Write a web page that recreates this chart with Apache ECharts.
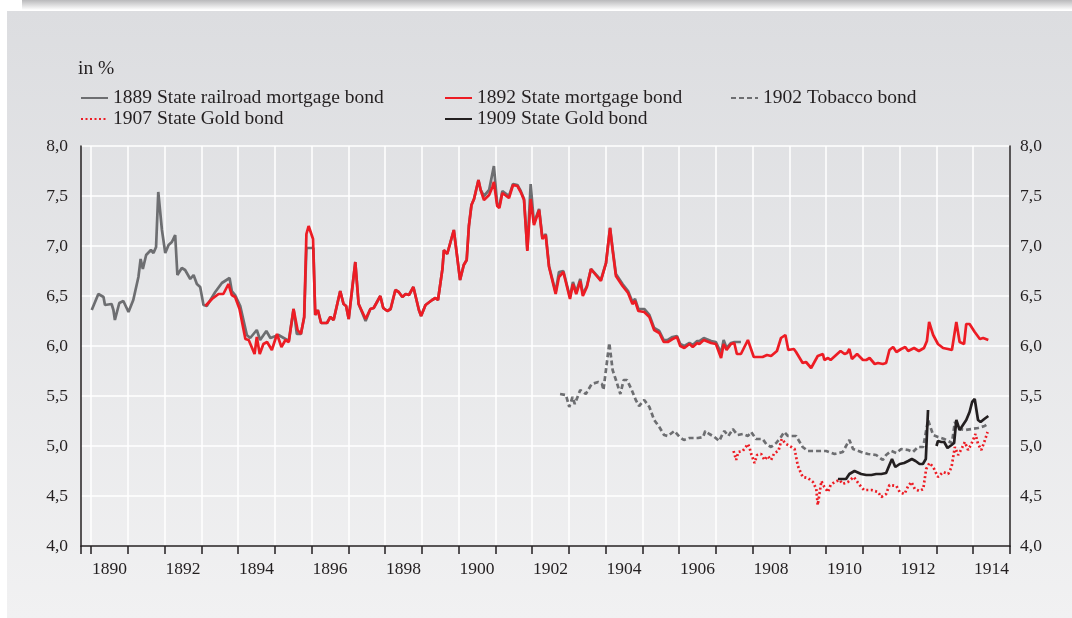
<!DOCTYPE html>
<html>
<head>
<meta charset="utf-8">
<script src="https://cdn.jsdelivr.net/npm/echarts@6/dist/echarts.min.js"></script>
<style>
html,body{margin:0;padding:0;background:#fff;width:1072px;height:618px;overflow:hidden;}
#shadow{position:absolute;left:22px;top:0;width:1050px;height:10px;background:linear-gradient(to bottom,#b9b9bb,#ffffff);}
#panel{position:absolute;left:7px;top:11px;width:1065px;height:607px;background:linear-gradient(to bottom,#dcdde0,#f1f1f2);}
#chart{position:absolute;left:0;top:0;width:1072px;height:618px;}
</style>
</head>
<body>
<div id="shadow"></div>
<div id="panel"></div>
<div id="chart"></div>
<script>
const years = ['1890','1891','1892','1893','1894','1895','1896','1897','1898','1899','1900','1901','1902','1903','1904','1905','1906','1907','1908','1909','1910','1911','1912','1913','1914'];
const yTicks = {min: 4, max: 8, interval: 0.5};
const seriesNames = ['1889 State railroad mortgage bond','1892 State mortgage bond','1902 Tobacco bond','1907 State Gold bond','1909 State Gold bond'];

const bond1889 = [[1890.02,6.36],[1890.20,6.52],[1890.34,6.49],[1890.38,6.41],[1890.56,6.42],[1890.61,6.36],[1890.65,6.26],[1890.70,6.25],[1890.77,6.43],[1890.88,6.45],[1891.02,6.34],[1891.15,6.46],[1891.29,6.69],[1891.35,6.87],[1891.41,6.77],[1891.50,6.91],[1891.63,6.96],[1891.70,6.93],[1891.77,6.99],[1891.83,7.54],[1891.93,7.16],[1892.02,6.93],[1892.11,7.01],[1892.20,7.04],[1892.29,7.11],[1892.35,6.71],[1892.47,6.78],[1892.56,6.76],[1892.70,6.67],[1892.79,6.71],[1892.88,6.62],[1892.97,6.59],[1893.06,6.41],[1893.15,6.40],[1893.38,6.54],[1893.56,6.63],[1893.77,6.68],[1893.83,6.55],[1893.92,6.51],[1894.06,6.40],[1894.24,6.11],[1894.33,6.08],[1894.51,6.16],[1894.60,6.06],[1894.77,6.15],[1894.88,6.08],[1895.10,6.11],[1895.29,6.07],[1895.38,6.05],[1895.51,6.37],[1895.60,6.12],[1895.71,6.12],[1895.80,6.29],[1895.86,6.98],[1896.05,6.98],[1896.10,6.31],[1896.17,6.36],[1896.26,6.23],[1896.42,6.23],[1896.51,6.29],[1896.60,6.26],[1896.78,6.55],[1896.87,6.42],[1896.94,6.40],[1897.01,6.27],[1897.19,6.84],[1897.28,6.42],[1897.47,6.25],[1897.60,6.37],[1897.69,6.38],[1897.87,6.50],[1897.95,6.38],[1898.06,6.35],[1898.15,6.37],[1898.28,6.56],[1898.37,6.54],[1898.47,6.49],[1898.56,6.52],[1898.65,6.51],[1898.77,6.59],[1898.92,6.36],[1898.98,6.30],[1899.10,6.41],[1899.28,6.46],[1899.37,6.48],[1899.44,6.46],[1899.56,6.77],[1899.60,6.96],[1899.69,6.92],[1899.87,7.16],[1900.04,6.66],[1900.14,6.81],[1900.22,6.86],[1900.28,7.20],[1900.35,7.41],[1900.42,7.47],[1900.54,7.66],[1900.60,7.56],[1900.69,7.50],[1900.83,7.56],[1900.96,7.80],[1901.05,7.42],[1901.11,7.40],[1901.19,7.55],[1901.37,7.50],[1901.48,7.62],[1901.60,7.61],[1901.69,7.55],[1901.78,7.47],[1901.87,6.96],[1901.96,7.62],[1902.05,7.23],[1902.19,7.37],[1902.28,7.08],[1902.37,7.12],[1902.46,6.80],[1902.64,6.54],[1902.73,6.74],[1902.85,6.75],[1903.03,6.49],[1903.11,6.64],[1903.20,6.54],[1903.31,6.67],[1903.38,6.52],[1903.49,6.60],[1903.60,6.77],[1903.87,6.66],[1904.01,6.83],[1904.12,7.18],[1904.19,6.97],[1904.28,6.72],[1904.46,6.62],[1904.61,6.55],[1904.73,6.44],[1904.80,6.47],[1904.89,6.37],[1905.05,6.37],[1905.19,6.31],[1905.32,6.18],[1905.46,6.15],[1905.58,6.06],[1905.69,6.06],[1905.82,6.09],[1905.94,6.10],[1906.03,6.02],[1906.14,6.00],[1906.28,6.03],[1906.37,6.01],[1906.49,6.05],[1906.55,6.05],[1906.67,6.08],[1906.87,6.05],[1907.00,6.04],[1907.14,5.93],[1907.21,6.06],[1907.29,5.98],[1907.41,6.03],[1907.50,6.04],[1907.68,6.04]];

const bond1892 = [[1893.11,6.40],[1893.29,6.47],[1893.47,6.52],[1893.60,6.52],[1893.74,6.62],[1893.79,6.63],[1893.83,6.51],[1893.92,6.49],[1894.04,6.37],[1894.20,6.07],[1894.29,6.06],[1894.45,5.92],[1894.51,6.09],[1894.59,5.92],[1894.69,6.02],[1894.79,6.04],[1894.92,5.96],[1895.06,6.12],[1895.18,5.99],[1895.29,6.06],[1895.38,6.04],[1895.51,6.37],[1895.62,6.16],[1895.71,6.12],[1895.80,6.29],[1895.86,7.12],[1895.92,7.20],[1896.04,7.07],[1896.10,6.31],[1896.17,6.36],[1896.26,6.23],[1896.42,6.23],[1896.51,6.29],[1896.60,6.26],[1896.78,6.55],[1896.87,6.42],[1896.94,6.40],[1897.01,6.27],[1897.19,6.84],[1897.28,6.42],[1897.47,6.27],[1897.60,6.37],[1897.69,6.38],[1897.87,6.50],[1897.95,6.38],[1898.06,6.35],[1898.15,6.37],[1898.28,6.56],[1898.37,6.54],[1898.47,6.49],[1898.56,6.52],[1898.65,6.51],[1898.77,6.59],[1898.92,6.36],[1898.98,6.30],[1899.10,6.41],[1899.28,6.46],[1899.37,6.48],[1899.44,6.46],[1899.56,6.77],[1899.60,6.96],[1899.69,6.92],[1899.87,7.16],[1900.04,6.66],[1900.14,6.81],[1900.22,6.86],[1900.28,7.20],[1900.35,7.41],[1900.42,7.47],[1900.54,7.66],[1900.60,7.56],[1900.69,7.46],[1900.83,7.51],[1900.92,7.59],[1900.96,7.64],[1901.05,7.40],[1901.11,7.38],[1901.19,7.53],[1901.37,7.48],[1901.48,7.61],[1901.60,7.60],[1901.69,7.54],[1901.78,7.46],[1901.87,6.95],[1901.96,7.47],[1902.05,7.21],[1902.19,7.36],[1902.28,7.07],[1902.37,7.11],[1902.46,6.79],[1902.64,6.52],[1902.73,6.69],[1902.85,6.74],[1903.03,6.47],[1903.11,6.62],[1903.20,6.52],[1903.31,6.65],[1903.38,6.50],[1903.49,6.59],[1903.60,6.77],[1903.87,6.65],[1904.01,6.83],[1904.12,7.18],[1904.19,6.96],[1904.28,6.70],[1904.46,6.60],[1904.61,6.53],[1904.73,6.42],[1904.80,6.45],[1904.89,6.35],[1905.05,6.34],[1905.19,6.29],[1905.32,6.16],[1905.46,6.13],[1905.58,6.04],[1905.69,6.04],[1905.82,6.07],[1905.94,6.09],[1906.03,6.00],[1906.14,5.98],[1906.28,6.02],[1906.37,5.99],[1906.49,6.03],[1906.55,6.02],[1906.67,6.06],[1906.87,6.03],[1907.00,6.02],[1907.14,5.88],[1907.21,6.02],[1907.29,5.96],[1907.41,6.02],[1907.50,6.03],[1907.57,5.92],[1907.68,5.92],[1907.87,6.06],[1908.03,5.89],[1908.27,5.89],[1908.39,5.91],[1908.50,5.90],[1908.66,5.95],[1908.77,6.08],[1908.89,6.11],[1908.97,5.96],[1909.12,5.97],[1909.18,5.94],[1909.36,5.83],[1909.45,5.84],[1909.59,5.78],[1909.77,5.90],[1909.91,5.92],[1909.95,5.86],[1910.05,5.88],[1910.12,5.86],[1910.27,5.91],[1910.39,5.95],[1910.50,5.92],[1910.57,5.93],[1910.63,5.97],[1910.70,5.87],[1910.84,5.92],[1911.00,5.86],[1911.09,5.86],[1911.18,5.88],[1911.32,5.82],[1911.41,5.83],[1911.54,5.82],[1911.63,5.83],[1911.72,5.96],[1911.82,5.99],[1911.91,5.94],[1912.04,5.97],[1912.15,5.99],[1912.23,5.95],[1912.39,5.98],[1912.52,5.95],[1912.66,5.98],[1912.74,6.05],[1912.80,6.24],[1912.91,6.11],[1913.04,6.02],[1913.18,5.98],[1913.31,5.97],[1913.42,5.96],[1913.54,6.24],[1913.63,6.04],[1913.75,6.02],[1913.81,6.22],[1913.90,6.22],[1914.04,6.14],[1914.18,6.07],[1914.27,6.08],[1914.41,6.06]];

const bond1902 = [[1902.76,5.52],[1902.92,5.51],[1903.01,5.39],[1903.10,5.49],[1903.16,5.42],[1903.31,5.56],[1903.46,5.52],[1903.62,5.62],[1903.80,5.64],[1903.90,5.62],[1903.94,5.56],[1904.10,6.03],[1904.19,5.76],[1904.28,5.66],[1904.40,5.52],[1904.49,5.66],[1904.58,5.66],[1904.71,5.56],[1904.82,5.46],[1904.91,5.40],[1905.05,5.46],[1905.19,5.39],[1905.32,5.26],[1905.46,5.19],[1905.59,5.11],[1905.69,5.10],[1905.87,5.15],[1906.01,5.09],[1906.13,5.06],[1906.28,5.08],[1906.51,5.08],[1906.65,5.09],[1906.71,5.15],[1906.82,5.12],[1906.96,5.09],[1907.09,5.05],[1907.18,5.12],[1907.23,5.15],[1907.34,5.10],[1907.46,5.17],[1907.59,5.11],[1907.73,5.12],[1907.87,5.10],[1907.96,5.14],[1908.09,5.07],[1908.27,5.07],[1908.37,5.02],[1908.50,4.99],[1908.64,5.03],[1908.77,5.09],[1908.86,5.14],[1908.96,5.10],[1909.18,5.10],[1909.36,4.99],[1909.50,4.95],[1909.77,4.95],[1910.00,4.95],[1910.23,4.92],[1910.45,4.94],[1910.63,5.06],[1910.73,4.97],[1910.95,4.94],[1911.14,4.92],[1911.36,4.91],[1911.54,4.86],[1911.63,4.91],[1911.77,4.95],[1911.91,4.93],[1912.04,4.97],[1912.23,4.96],[1912.36,4.94],[1912.50,4.99],[1912.64,4.99],[1912.77,5.26],[1912.91,5.11],[1913.04,5.09],[1913.21,5.07],[1913.32,5.05],[1913.42,5.03],[1913.50,5.24],[1913.63,5.17],[1913.77,5.16],[1913.95,5.17],[1914.13,5.18],[1914.31,5.20],[1914.42,5.23]];

const bond1907 = [[1907.48,4.95],[1907.55,4.86],[1907.61,4.94],[1907.73,4.95],[1907.87,5.02],[1907.91,4.99],[1907.96,4.92],[1908.05,4.83],[1908.12,4.91],[1908.23,4.92],[1908.32,4.86],[1908.41,4.90],[1908.50,4.86],[1908.59,4.93],[1908.70,4.95],[1908.79,5.07],[1908.91,5.02],[1909.05,4.99],[1909.14,4.97],[1909.23,4.80],[1909.36,4.69],[1909.50,4.68],[1909.64,4.64],[1909.73,4.57],[1909.77,4.41],[1909.87,4.65],[1909.95,4.59],[1910.05,4.54],[1910.12,4.61],[1910.23,4.64],[1910.36,4.66],[1910.45,4.62],[1910.59,4.64],[1910.75,4.69],[1910.91,4.61],[1911.03,4.56],[1911.23,4.56],[1911.41,4.54],[1911.50,4.49],[1911.63,4.52],[1911.72,4.61],[1911.91,4.60],[1912.00,4.54],[1912.13,4.52],[1912.23,4.60],[1912.32,4.64],[1912.41,4.57],[1912.54,4.55],[1912.64,4.57],[1912.72,4.77],[1912.81,4.83],[1912.91,4.79],[1913.04,4.69],[1913.18,4.74],[1913.32,4.72],[1913.41,4.79],[1913.50,4.99],[1913.59,4.91],[1913.68,4.97],[1913.77,5.04],[1913.86,4.96],[1913.95,5.02],[1914.06,5.12],[1914.13,5.02],[1914.22,4.96],[1914.30,5.04],[1914.39,5.14]];

const bond1909a = [[1910.32,4.67],[1910.54,4.67],[1910.63,4.72],[1910.77,4.75],[1910.95,4.72],[1911.09,4.71],[1911.23,4.71],[1911.36,4.72],[1911.50,4.72],[1911.63,4.73],[1911.72,4.81],[1911.79,4.87],[1911.88,4.79],[1912.00,4.82],[1912.12,4.83],[1912.23,4.85],[1912.33,4.87],[1912.43,4.85],[1912.54,4.82],[1912.63,4.82],[1912.71,4.87],[1912.77,5.36]];
const bond1909b = [[1913.00,5.00],[1913.04,5.05],[1913.13,5.04],[1913.21,5.04],[1913.30,4.98],[1913.41,5.01],[1913.48,5.03],[1913.54,5.26],[1913.63,5.16],[1913.72,5.21],[1913.81,5.26],[1913.90,5.34],[1913.97,5.44],[1914.04,5.47],[1914.13,5.26],[1914.20,5.24],[1914.30,5.27],[1914.41,5.30]];

const FONT = '"Liberation Serif","Times New Roman",serif';
const TXT = '#231f20';
const colors = {gray:'#6d6e71', red:'#ed1c24', black:'#231f20'};
const LW = 2.7;

function fmt(v){ return v.toFixed(1).replace('.', ','); }

const chart = echarts.init(document.getElementById('chart'), null, {renderer:'canvas'});

const lineBase = {type:'line', xAxisIndex:2, yAxisIndex:2, symbol:'none', showSymbol:false, animation:false, silent:true};

const legendCommon = {orient:'vertical', padding:0, itemWidth:27, itemHeight:14, itemGap:1,
  itemStyle:{color:'transparent', borderWidth:0, opacity:0},
  textStyle:{fontFamily:FONT, fontSize:19.5, color:TXT}, selectedMode:false};

chart.setOption({
  animation:false,
  backgroundColor:'transparent',
  title:{text:'in %', left:78, top:59, padding:0, textStyle:{fontFamily:FONT, fontSize:19.5, fontWeight:'normal', color:TXT}},
  legend:[
    Object.assign({left:80, top:88, data:[seriesNames[0], seriesNames[3]]}, legendCommon),
    Object.assign({left:444, top:88, data:[seriesNames[1], seriesNames[4]]}, legendCommon),
    Object.assign({left:730, top:88, data:[seriesNames[2]]}, legendCommon)
  ],
  grid:[
    {left:81, right:62, top:146, bottom:72, containLabel:false},
    {left:91, right:62, top:146, bottom:72, containLabel:false}
  ],
  xAxis:[
    {gridIndex:0, type:'value', min:0, max:1, interval:1, position:'bottom',
     axisLine:{show:true, lineStyle:{color:'#231f20', width:1.5}},
     axisTick:{show:true, length:8, lineStyle:{color:'#231f20', width:1.5}},
     axisLabel:{show:false}, splitLine:{show:false}},
    {gridIndex:1, type:'category', data:years, boundaryGap:true, position:'bottom',
     axisLine:{show:false},
     axisTick:{show:true, interval:0, length:8, lineStyle:{color:'#231f20', width:1.5}},
     axisLabel:{interval:1, margin:14, fontFamily:FONT, fontSize:17.5, color:TXT},
     splitLine:{show:true, interval:0, lineStyle:{color:'#ffffff', width:1.5}}},
    {gridIndex:1, type:'value', min:1890, max:1915, show:false}
  ],
  yAxis:[
    {gridIndex:0, type:'value', position:'left', min:yTicks.min, max:yTicks.max, interval:yTicks.interval,
     axisLine:{show:true, lineStyle:{color:'#231f20', width:1.5}},
     axisTick:{show:false},
     axisLabel:{margin:13, formatter:fmt, fontFamily:FONT, fontSize:17.5, color:TXT},
     splitLine:{show:true, lineStyle:{color:'#ffffff', width:1.5}}},
    {gridIndex:0, type:'value', position:'right', min:yTicks.min, max:yTicks.max, interval:yTicks.interval,
     axisLine:{show:true, lineStyle:{color:'#231f20', width:1.5}},
     axisTick:{show:false},
     axisLabel:{margin:10, formatter:fmt, fontFamily:FONT, fontSize:17.5, color:TXT},
     splitLine:{show:false}},
    {gridIndex:1, type:'value', min:yTicks.min, max:yTicks.max, interval:yTicks.interval, show:false}
  ],
  series:[
    Object.assign({}, lineBase, {name:seriesNames[0], data:bond1889, z:2, lineStyle:{color:colors.gray, width:LW}, itemStyle:{color:colors.gray}}),
    Object.assign({}, lineBase, {name:seriesNames[1], data:bond1892, z:3, lineStyle:{color:colors.red, width:LW}, itemStyle:{color:colors.red}}),
    Object.assign({}, lineBase, {name:seriesNames[2], data:bond1902, z:2, lineStyle:{color:colors.gray, width:LW, type:[5,3]}, itemStyle:{color:colors.gray}}),
    Object.assign({}, lineBase, {name:seriesNames[3], data:bond1907, z:2, lineStyle:{color:colors.red, width:LW, type:[2,2.5]}, itemStyle:{color:colors.red}}),
    Object.assign({}, lineBase, {name:seriesNames[4], data:bond1909a, z:4, lineStyle:{color:colors.black, width:LW}, itemStyle:{color:colors.black}}),
    Object.assign({}, lineBase, {name:seriesNames[4], data:bond1909b, z:4, lineStyle:{color:colors.black, width:LW}, itemStyle:{color:colors.black}})
  ]
});
</script>
</body>
</html>
